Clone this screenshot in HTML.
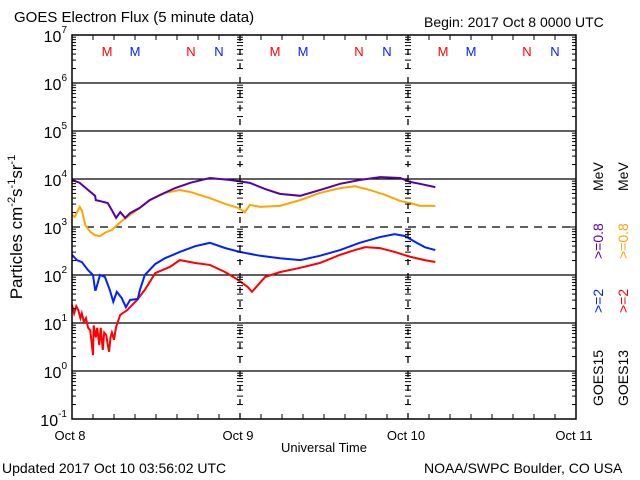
<!DOCTYPE html>
<html><head><meta charset="utf-8"><style>
body{margin:0;background:#fff}
svg{display:block;font-family:"Liberation Sans",sans-serif}
</style></head><body>
<svg id="c" width="640" height="480" viewBox="0 0 640 480">
<text x="14" y="22" font-size="15">GOES Electron Flux (5 minute data)</text>
<text x="424" y="27" font-size="14">Begin: 2017 Oct 8 0000 UTC</text>
<text x="2" y="473" font-size="14">Updated 2017 Oct 10 03:56:02 UTC</text>
<text x="424" y="473" font-size="14">NOAA/SWPC Boulder, CO USA</text>
<text x="324" y="452" font-size="13" text-anchor="middle">Universal Time</text>
<text transform="translate(22,227) rotate(-90)" font-size="17" text-anchor="middle">Particles cm<tspan font-size="11" dy="-7">-2</tspan><tspan dy="7">s</tspan><tspan font-size="11" dy="-7">-1</tspan><tspan dy="7">sr</tspan><tspan font-size="11" dy="-7">-1</tspan></text>
<g id="grid"></g><g id="series"></g><g id="axes"></g>
<g font-size="14">
<text transform="translate(603,406) rotate(-90)">GOES15</text>
<text transform="translate(603,313) rotate(-90)" fill="#0022ff">&gt;=2</text>
<text transform="translate(603,259) rotate(-90)" fill="#5500aa">&gt;=0.8</text>
<text transform="translate(603,191) rotate(-90)">MeV</text>
<text transform="translate(628,406) rotate(-90)">GOES13</text>
<text transform="translate(628,313) rotate(-90)" fill="#ff0000">&gt;=2</text>
<text transform="translate(628,259) rotate(-90)" fill="#ffa500">&gt;=0.8</text>
<text transform="translate(628,191) rotate(-90)">MeV</text>
</g>
</svg>
<script>
const decades=[7,6,5,4,3,2,1,0,-1];
const dayLabels=["Oct 8","Oct 9","Oct 10","Oct 11"];
const purpleH=[0,1.1,2.3,3.3,3.4,4,5.1,5.7,6.3,6.9,7.6,8.3,9.7,11.1,12.6,14.7,16.9,19.7,22.6,25.4,27.6,29.7,32.6,35.4,38.3,41.1,44,46.9,48.3,49.7,51.9];
const purpleV=[3.98,3.92,3.77,3.65,3.56,3.54,3.5,3.35,3.19,3.31,3.19,3.29,3.4,3.56,3.67,3.81,3.92,4.02,3.98,3.92,3.79,3.69,3.65,3.77,3.9,3.98,4.04,4.02,3.94,3.9,3.83];
const orangeH=[0,0.4,1.1,1.4,1.9,2.6,3.3,4,4.7,5.7,6.9,8.3,9.7,11.1,13.3,15.4,16.9,19.7,21.9,23.7,24.7,25.4,26.9,29.7,32.6,35.4,38.3,40.4,42.6,44.7,46.9,48.3,49.7,51.9];
const orangeV=[3.25,3.21,3.42,3.35,3.04,2.9,2.83,2.81,2.88,2.94,3.1,3.25,3.4,3.56,3.71,3.77,3.73,3.6,3.48,3.4,3.31,3.46,3.42,3.44,3.56,3.71,3.81,3.85,3.77,3.67,3.54,3.5,3.44,3.44];
const blueH=[0,0.7,1.4,2.3,3,3.3,3.4,4,4.7,5.4,5.9,6.4,7.1,7.7,8.3,9.4,9.7,10.4,11.9,13.3,15.4,17.6,19.7,21.9,24,26.9,29.7,32.6,35.4,38.3,41.1,44,46.1,47.6,49,50.4,51.9];
const blueV=[2.42,2.31,2.27,2.1,2.0,1.69,1.69,2.0,1.96,1.69,1.44,1.65,1.52,1.33,1.48,1.5,1.69,2.0,2.23,2.35,2.48,2.6,2.67,2.56,2.48,2.4,2.35,2.31,2.4,2.52,2.67,2.79,2.85,2.81,2.69,2.58,2.52];
const redH=[0,0.3,0.6,0.9,1.2,1.4,1.7,2,2.3,2.6,2.8,3,3.1,3.4,3.6,3.9,4.1,4.4,4.6,4.9,5.1,5.3,5.5,5.7,6,6.3,6.9,7.9,9.3,10.4,11.9,14,15.4,17.6,19.7,21.9,23.7,25.1,25.7,27.6,29.7,32.6,35.4,38.3,40.4,41.9,44,46.1,48.3,50.4,51.9];
const redV=[1.38,1.2,1.35,1.27,1.1,1.2,1.02,1.1,0.9,0.85,0.6,0.33,0.95,0.7,0.9,0.54,0.9,0.44,0.8,0.75,0.55,0.4,0.7,0.8,0.65,0.92,1.17,1.27,1.48,1.69,2.04,2.17,2.31,2.25,2.21,2.06,1.9,1.75,1.65,1.96,2.06,2.15,2.25,2.42,2.52,2.58,2.56,2.48,2.38,2.31,2.27];
const X0=72,X1=576,Y0=35,Y1=419;
const xs=h=>X0+h*(X1-X0)/72;
const ys=v=>Y0+(7-v)*(Y1-Y0)/8;
const NS="http://www.w3.org/2000/svg";
function mk(tag,at,parent){const e=document.createElementNS(NS,tag);for(const k in at)e.setAttribute(k,at[k]);parent.appendChild(e);return e;}
const grid=document.getElementById('grid'),axes=document.getElementById('axes'),ser=document.getElementById('series');
decades.forEach(d=>{
  const y=ys(d);
  if(d<7&&d>-1){const l=mk('line',{x1:X0,x2:X1,y1:y,y2:y,stroke:'#000','stroke-width':1.3},grid);
    if(d===3)l.setAttribute('stroke-dasharray','8,6');
    
    }
  const t=mk('text',{x:X0-5,y:y+7,'font-size':16,'text-anchor':'end'},axes);
  t.innerHTML='10<tspan font-size="10" dy="-9">'+d+'</tspan>';
  
  
  [X0,X1,xs(24),xs(48)].forEach((xx,i)=>{
    if(d>-1){for(let m=2;m<=9;m++){const yy=ys(d-1+Math.log10(m));
      if(i===0)mk('line',{x1:xx,x2:xx+4,y1:yy,y2:yy,stroke:'#000'},axes);
      else if(i===1)mk('line',{x1:xx-4,x2:xx,y1:yy,y2:yy,stroke:'#000'},axes);
      else mk('line',{x1:xx-3,x2:xx+3,y1:yy,y2:yy,stroke:'#000'},axes);}}
    if(i===0)mk('line',{x1:xx,x2:xx+8,y1:y,y2:y,stroke:'#000'},axes);
    if(i===1)mk('line',{x1:xx-8,x2:xx,y1:y,y2:y,stroke:'#000'},axes);
  });
});
[24,48].forEach(h=>{const l=mk('line',{x1:xs(h),x2:xs(h),y1:Y0,y2:Y1,stroke:'#000','stroke-width':1.3,'stroke-dasharray':'6,8'},grid);
  
  });
for(let h=3;h<72;h+=3){mk('line',{x1:xs(h),x2:xs(h),y1:Y1,y2:Y1-5,stroke:'#000'},axes);mk('line',{x1:xs(h),x2:xs(h),y1:Y0,y2:Y0+5,stroke:'#000'},axes);}
const box=mk('rect',{x:X0,y:Y0,width:X1-X0,height:Y1-Y0,fill:'none',stroke:'#000','stroke-width':1.5},axes);


dayLabels.forEach((s,i)=>{const t=mk('text',{x:xs(i*24)-2,y:440,'font-size':13,'text-anchor':'middle'},axes);t.textContent=s;
  
  });
const mn=[["M",5,'#ff0000'],["M",9,'#0022ff'],["N",17,'#ff0000'],["N",21,'#0022ff']];
[0,24,48].forEach(o=>mn.forEach(([s,h,c])=>{const t=mk('text',{x:xs(o+h),y:56,'font-size':13,fill:c,'text-anchor':'middle'},axes);t.textContent=s;
  
  }));
function line(H,V,c,name){const p=mk('polyline',{points:H.map((h,i)=>xs(h)+','+ys(V[i])).join(' '),fill:'none',stroke:c,'stroke-width':2},ser);
  
  }
line(orangeH,orangeV,'#ffa500','series-goes13-0.8mev');
line(purpleH,purpleV,'#5500aa','series-goes15-0.8mev');
line(redH,redV,'#ff0000','series-goes13-2mev');
line(blueH,blueV,'#0022ff','series-goes15-2mev');
</script>
</body></html>
